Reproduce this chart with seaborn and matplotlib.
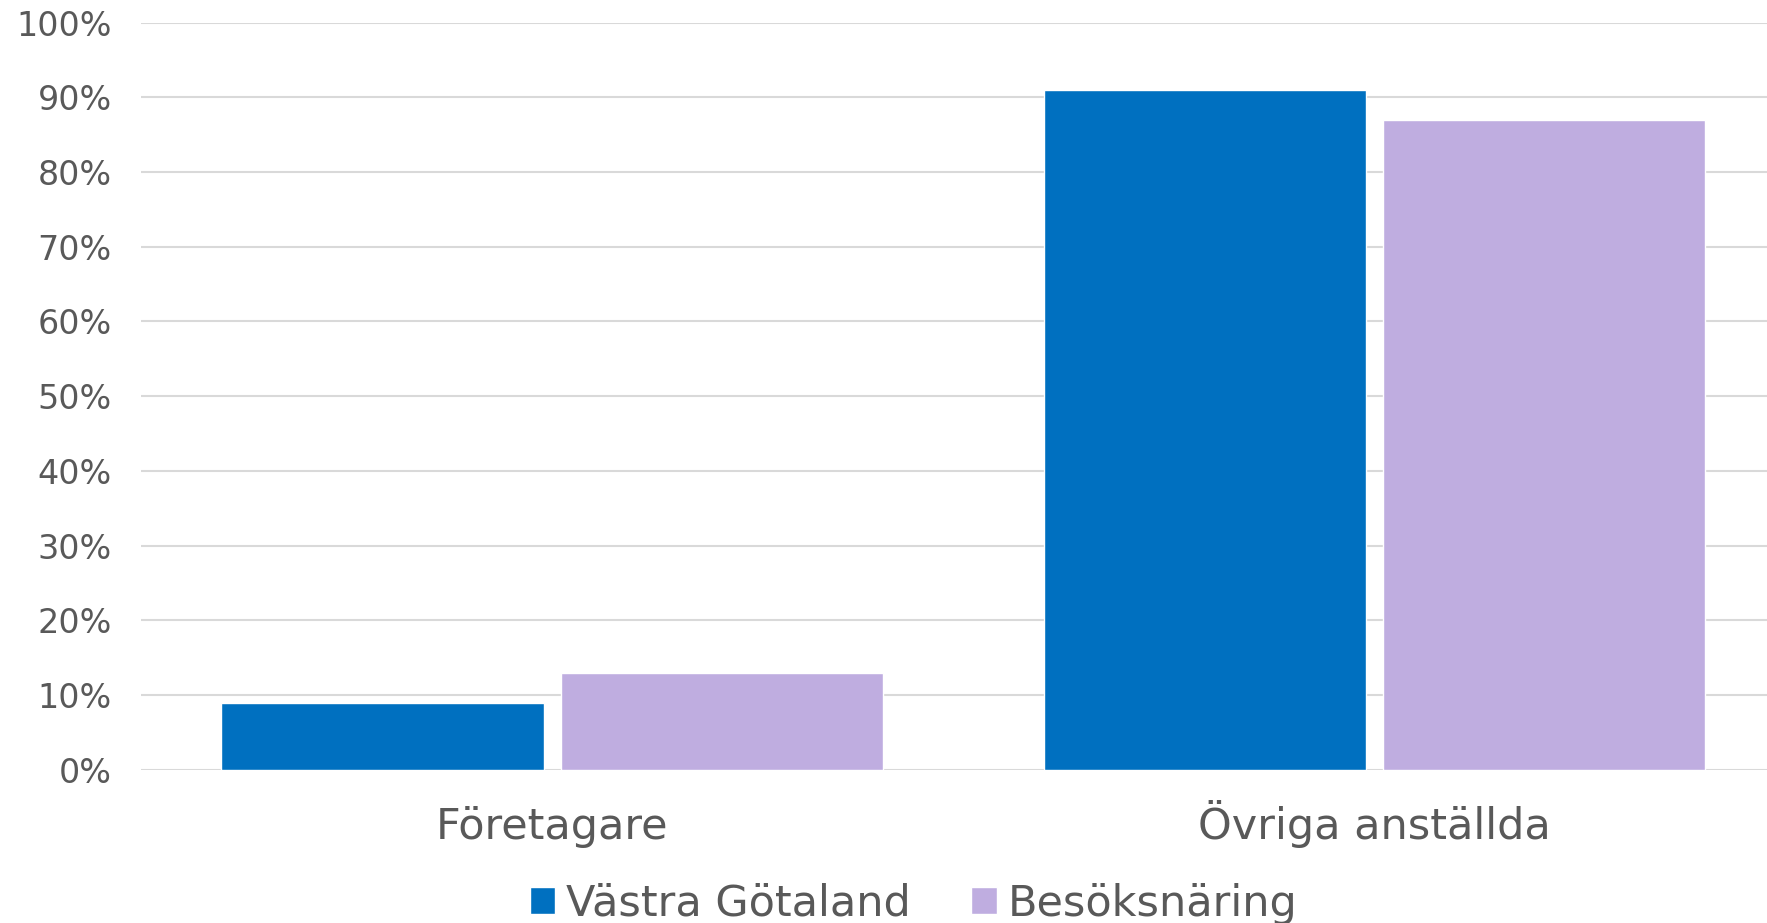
import pandas as pd
import seaborn as sns
from matplotlib import pyplot as plt
from matplotlib.ticker import PercentFormatter

# kategorier och serier
kategorier = ['Företagare', 'Övriga anställda']
serier = ['Västra Götaland', 'Besöksnäring']
vastra_gotaland = [9, 91]
besoksnaring = [13, 87]
farger = ['#0070C0', '#BFADE0']

df = pd.DataFrame({
    'kategori': kategorier * 2,
    'serie': [serier[0]] * 2 + [serier[1]] * 2,
    'andel': vastra_gotaland + besoksnaring,
})

sns.set_style('white')
plt.rcParams['font.family'] = ['DejaVu Sans']
grey = '#595959'

fig = plt.figure(figsize=(17.67, 9.23), dpi=100)
# axeln gar lite utanfor hogerkanten, som i originalet
ax = fig.add_axes([0.0798, 0.1658, 0.9305, 0.8098])

sns.barplot(data=df, x='kategori', y='andel', hue='serie', palette=farger,
            width=0.825, gap=0.05, saturation=1, ax=ax, zorder=3)

ax.set_ylim(0, 100)
ax.set_yticks(range(0, 101, 10))
ax.yaxis.set_major_formatter(PercentFormatter(decimals=0))
ax.grid(axis='y', color='#D9D9D9', linewidth=1.5, zorder=0)
ax.set_axisbelow(True)
for s in ax.spines.values():
    s.set_visible(False)
ax.tick_params(axis='y', length=0, labelsize=24, labelcolor=grey, pad=21)
ax.tick_params(axis='x', length=0, labelsize=31, labelcolor=grey, pad=50)
for lbl in ax.get_xticklabels():
    lbl.set_verticalalignment('baseline')
ax.set_xlabel('')
ax.set_ylabel('')

ax.legend_.remove()
handles, labels = ax.get_legend_handles_labels()
fig.legend(handles, labels, loc='lower center', bbox_to_anchor=(0.517, -0.044),
           ncol=2, frameon=False, fontsize=31, labelcolor=grey,
           handlelength=0.6, handleheight=0.6, handletextpad=0.25, columnspacing=1.4)

fig.savefig('out.png', dpi=100)
